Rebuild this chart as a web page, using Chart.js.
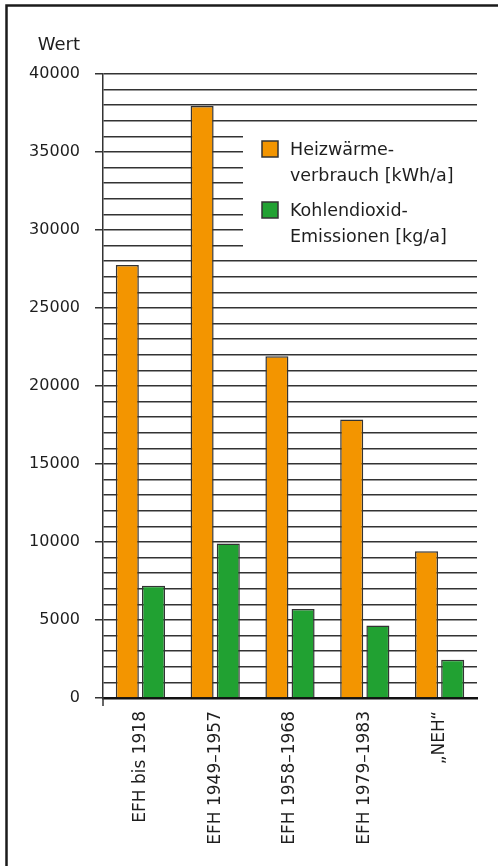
<!DOCTYPE html>
<html>
<head>
<meta charset="utf-8">
<script src="https://cdn.jsdelivr.net/npm/chart.js@4.4.1/dist/chart.umd.min.js"></script>
<style>
  html, body { margin: 0; padding: 0; background: #fff; }
  #wrap { position: relative; width: 498px; height: 866px; }
</style>
</head>
<body>
<div id="wrap"><canvas id="myChart"></canvas></div>
<script>
// categories and values
const categories = ['EFH bis 1918', 'EFH 1949–1957', 'EFH 1958–1968', 'EFH 1979–1983', '„NEH“'];
const heatValues = [27750, 37950, 21900, 17850, 9400];
const co2Values = [7200, 9900, 5700, 4650, 2450];
const seriesNames = ['Heizwärmeverbrauch [kWh/a]', 'Kohlendioxid-Emissionen [kg/a]'];
const legendLines = [['Heizwärme-', 'verbrauch [kWh/a]'], ['Kohlendioxid-', 'Emissionen [kg/a]']];
const yTitle = 'Wert';
const yMax = 40000;

const FONT = '"DejaVu Sans", "Open Sans", sans-serif';
const INK = '#1e1e1e';
const LINE = '#333333';

// white box behind the legend, cuts the grid lines
const legendBox = {
  id: 'legendBox',
  beforeDatasetsDraw(chart) {
    const c = chart.ctx;
    const y = chart.scales.y;
    const top = y.getPixelForValue(36550);
    const bottom = y.getPixelForValue(28450);
    c.save();
    c.fillStyle = '#fff';
    c.fillRect(243, top, chart.chartArea.right - 243 + 2, bottom - top);
    c.restore();
  },
  afterDraw(chart) {
    const c = chart.ctx;
    c.save();
    c.font = '17.5px ' + FONT;
    c.textBaseline = 'alphabetic';
    const rows = [141, 202];
    chart.data.datasets.forEach((ds, i) => {
      const y0 = rows[i];
      c.fillStyle = ds.backgroundColor;
      c.fillRect(262, y0, 16, 16);
      c.strokeStyle = LINE;
      c.lineWidth = 1.5;
      c.strokeRect(262, y0, 16, 16);
      c.fillStyle = INK;
      legendLines[i].forEach((t, k) => {
        c.fillText(t, 290, y0 + 14 + k * 25.5);
      });
    });
    c.restore();
  }
};

// frame, axis title and the little axis stub under zero
const frame = {
  id: 'frame',
  afterDraw(chart) {
    const c = chart.ctx;
    const a = chart.chartArea;
    c.save();
    c.strokeStyle = '#1b1b1b';
    c.lineWidth = 2.5;
    c.beginPath();
    c.moveTo(6.5, 866);
    c.lineTo(6.5, 5.5);
    c.lineTo(498, 5.5);
    c.stroke();

    c.strokeStyle = LINE;
    c.lineWidth = 1.5;
    c.beginPath();
    c.moveTo(a.left, a.bottom);
    c.lineTo(a.left, a.bottom + 8);
    c.stroke();

    c.fillStyle = INK;
    c.font = '18px ' + FONT;
    c.textAlign = 'right';
    c.fillText(yTitle, 80, 50);
    c.restore();
  }
};

const ctx = document.getElementById('myChart');

const chart = new Chart(ctx, {
  type: 'bar',
  data: {
    labels: categories,
    datasets: [{
      label: seriesNames[0],
      data: heatValues,
      backgroundColor: '#f39500',
      borderColor: LINE,
      borderWidth: 1.5
    }, {
      label: seriesNames[1],
      data: co2Values,
      backgroundColor: '#21a132',
      borderColor: LINE,
      borderWidth: 1.5
    }]
  },
  options: {
    responsive: true,
    maintainAspectRatio: false,
    animation: false,
    layout: { padding: { left: 0, right: 21, top: 74, bottom: 0 } },
    datasets: { bar: { categoryPercentage: 0.7, barPercentage: 0.88 } },
    plugins: {
      legend: { display: false },
      tooltip: { enabled: false }
    },
    scales: {
      x: {
        afterFit(s) { s.height = 168; },
        grid: { display: false },
        border: { color: '#111', width: 2.5 },
        ticks: {
          color: INK,
          font: { family: FONT, size: 17 },
          minRotation: 90,
          maxRotation: 90,
          padding: 5
        }
      },
      y: {
        min: 0,
        max: yMax,
        afterFit(s) { s.width = 103; },
        border: { color: LINE, width: 1.5 },
        grid: {
          color: LINE,
          lineWidth: 1.5,
          tickLength: 8,
          tickColor: c => (c.tick && c.tick.value % 5000 === 0) ? LINE : 'rgba(0,0,0,0)'
        },
        ticks: {
          stepSize: 1000,
          autoSkip: false,
          padding: 15,
          color: INK,
          font: { family: FONT, size: 16 },
          callback: v => (v % 5000 === 0 ? String(v) : '')
        }
      }
    }
  },
  plugins: [legendBox, frame]
});
</script>
</body>
</html>
